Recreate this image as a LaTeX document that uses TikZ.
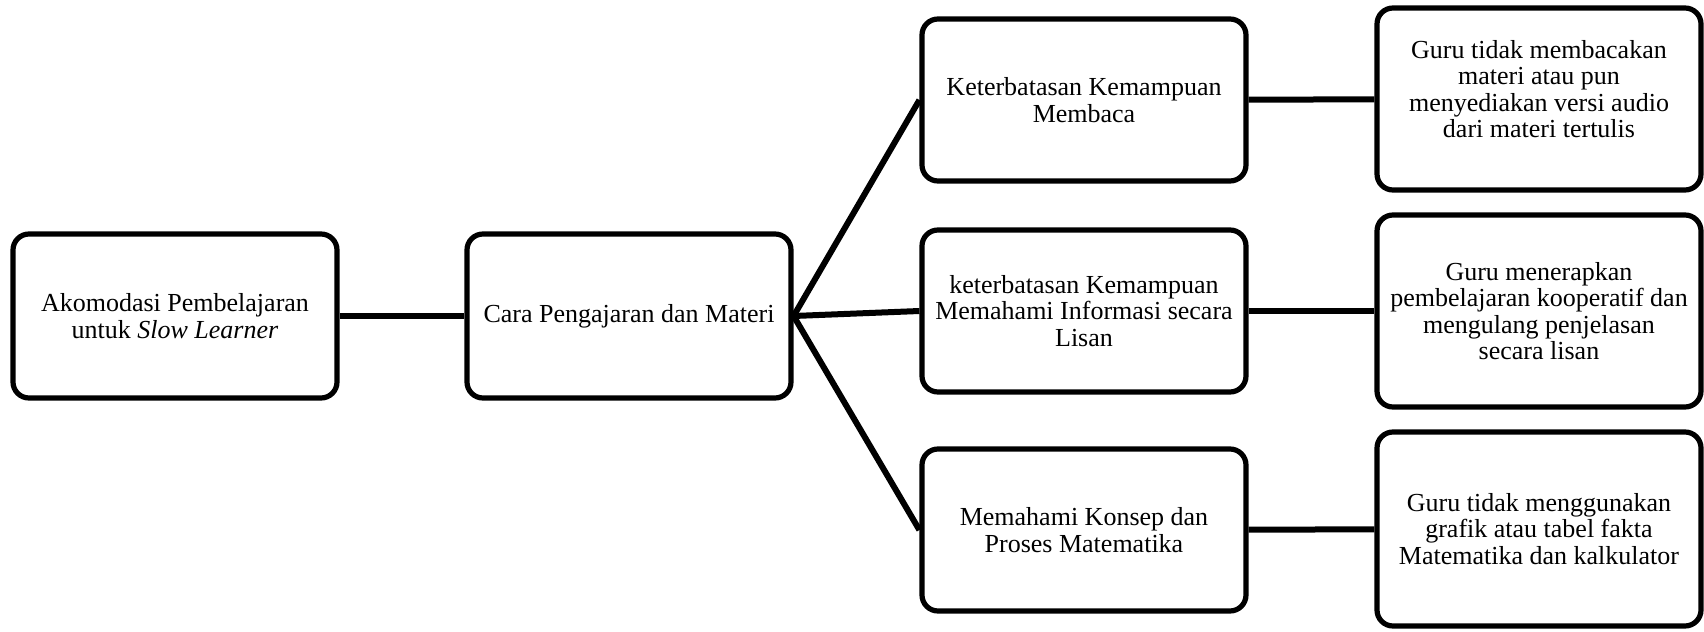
\documentclass[tikz,border=0pt]{standalone}
\usepackage{fontspec}
\setmainfont{Liberation Serif}
\usepackage{tikz}
\usetikzlibrary{positioning}
\tikzset{mybox/.style={draw, line width=2.6pt, rounded corners=8pt, align=center, minimum width=162pt, inner sep=2pt, font=\fontsize{13}{13.2}\selectfont},
  mytext/.style={align=center, inner sep=0pt, font=\fontsize{13}{13.2}\selectfont},
  myline/.style={line width=3pt}}

\begin{document}
\begin{tikzpicture}[x=0.5pt, y=-0.5pt]
			\useasboundingbox (0,0) rectangle (1704,632);
			\node [mybox, minimum height=82pt] (akomodasi) at (175,316) {Akomodasi Pembelajaran\\ untuk \textit{Slow Learner}};
			\node [mybox, minimum height=82pt] (cara) at (629,316) {Cara Pengajaran dan Materi};
			\node [mybox, minimum height=81pt] (membaca) at (1084,100) {Keterbatasan Kemampuan\\ Membaca};
			\node [mybox, minimum height=81pt] (lisan) at (1084,311) {keterbatasan Kemampuan\\ Memahami Informasi secara\\ Lisan};
			\node [mybox, minimum height=81pt] (mtk) at (1084,530) {Memahami Konsep dan\\ Proses Matematika};
			\node [mybox, minimum height=91pt] (audio) at (1539,99) {};
			\node [mytext] (audiotext) at (1539,89) {Guru tidak membacakan\\ materi atau pun\\ menyediakan versi audio\\ dari materi tertulis};
			\node [mybox, minimum height=96pt] (koop) at (1539,311) {Guru menerapkan\\ pembelajaran kooperatif dan\\ mengulang penjelasan\\ secara lisan};
			\node [mybox, minimum height=97pt] (grafik) at (1539,529) {Guru tidak menggunakan\\ grafik atau tabel fakta\\ Matematika dan kalkulator};
			\draw [myline] (akomodasi) -- (cara);
			\draw [myline] (cara.east) -- (membaca.west);
			\draw [myline] (cara.east) -- (lisan.west);
			\draw [myline] (cara.east) -- (mtk.west);
			\draw [myline] (membaca) -- (audio);
			\draw [myline] (lisan) -- (koop);
			\draw [myline] (mtk) -- (grafik);
		\end{tikzpicture}
\end{document}
